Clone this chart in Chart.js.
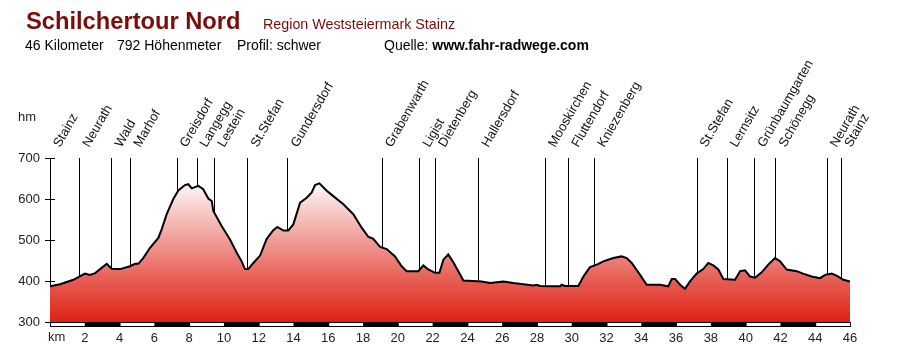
<!DOCTYPE html>
<html>
<head>
<meta charset="utf-8">
<script src="https://cdn.jsdelivr.net/npm/chart.js@4.4.1/dist/chart.umd.min.js"></script>
<style>
  html, body { margin: 0; padding: 0; background: #fff; overflow: hidden; }
  canvas { display: block; }
</style>
</head>
<body>
<canvas id="profil" width="900" height="348"></canvas>
<script>
// Streckenprofil: Kilometer und Höhe (hm)
const km = [0,0.58,1.34,2.01,2.30,2.59,2.88,3.26,3.55,4.03,
  4.60,4.89,5.08,5.36,5.75,6.23,6.42,6.71,7.09,7.38,
  7.76,7.95,8.15,8.53,8.81,9.10,9.30,9.39,9.87,10.35,
  10.74,11.02,11.21,11.40,11.69,12.08,12.46,12.84,13.07,13.42,
  13.70,13.99,14.38,14.76,15.05,15.24,15.49,15.91,16.29,16.87,
  17.44,17.92,18.30,18.59,18.98,19.36,19.84,20.22,20.51,21.18,
  21.47,21.75,22.14,22.39,22.62,22.90,23.20,23.77,24.82,25.30,
  26.07,26.64,27.79,27.99,28.18,29.33,29.42,29.61,30.38,30.67,
  31.05,31.44,31.82,32.39,32.87,33.16,33.45,33.93,34.31,35.08,
  35.55,35.75,35.94,36.23,36.51,36.80,37.18,37.56,37.85,38.14,
  38.43,38.72,39.39,39.68,39.96,40.25,40.54,40.92,41.30,41.69,
  41.98,42.36,42.94,43.30,43.80,44.28,44.57,44.95,45.23,45.62,
  46];
const hoehe = [387,392,403,418,415,419,429,442,430,429,
  436,442,442,456,481,505,526,563,600,621,
  634,636,626,632,624,601,595,571,534,501,
  469,448,429,429,444,462,503,524,532,523,
  523,538,591,603,616,634,638,620,607,587,
  563,530,508,503,483,478,460,436,424,424,
  438,428,420,420,452,465,445,401,399,395,
  399,395,389,391,388,387,391,388,388,411,
  434,440,448,456,460,456,444,415,391,391,
  387,405,405,391,381,399,418,429,444,438,
  428,405,403,424,426,411,408,421,440,456,
  448,428,424,418,411,407,415,418,413,403,
  399];

// Orte entlang der Strecke
const orte = ['Stainz','Neurath','Wald','Marhof','Greisdorf','Langegg','Lestein','St.Stefan',
  'Gundersdorf','Grabenwarth','Ligist','Dietenberg','Hallersdorf','Mooskirchen','Fluttendorf',
  'Kniezenberg','St.Stefan','Lernsitz','Grünbaumgarten','Schönegg','Neurath','Stainz'];
const orteKm = [0,1.68,3.53,4.62,7.28,8.43,9.45,11.35,13.65,19.07,21.24,22.14,24.63,
  28.46,29.8,31.3,37.18,38.91,40.5,41.71,44.66,45.49];

const hmTicks = [300,400,500,600,700];
const kmMax = 46;

const FONT = "'Liberation Sans', Arial, sans-serif";

const deko = {
  id: 'deko',
  beforeDatasetsDraw(chart) {
    const { ctx, chartArea, scales: { x } } = chart;
    ctx.save();
    ctx.strokeStyle = '#000';
    ctx.lineWidth = 1;
    orteKm.forEach(k => {
      const px = Math.round(x.getPixelForValue(k)) + 0.5;
      ctx.beginPath();
      ctx.moveTo(px, chartArea.top);
      ctx.lineTo(px, chartArea.bottom);
      ctx.stroke();
    });
    ctx.restore();
  },
  afterDatasetsDraw(chart) {
    const { ctx, chartArea, scales: { x, y } } = chart;
    ctx.save();
    // Kilometerleiste unten
    const yb = chartArea.bottom;
    const x0 = x.getPixelForValue(0), x1 = x.getPixelForValue(kmMax);
    ctx.fillStyle = '#000';
    ctx.fillRect(x0, yb, x1 - x0 + 1, 5);
    ctx.fillStyle = '#fff';
    for (let k = 0; k < kmMax; k += 4) {
      const a = x.getPixelForValue(k), b = x.getPixelForValue(Math.min(k + 2, kmMax));
      ctx.fillRect(a + 1, yb + 1, b - a - 1, 3);
    }
    // Striche innen an der Höhenachse
    ctx.strokeStyle = '#000';
    ctx.lineWidth = 1;
    hmTicks.slice(1).forEach(v => {
      const py = Math.round(y.getPixelForValue(v)) + 0.5;
      ctx.beginPath();
      ctx.moveTo(chartArea.left, py);
      ctx.lineTo(chartArea.left + 5, py);
      ctx.stroke();
    });
    // Ortsnamen schräg
    ctx.fillStyle = '#111';
    ctx.font = '13px ' + FONT;
    ctx.textAlign = 'left';
    ctx.textBaseline = 'alphabetic';
    orte.forEach((name, i) => {
      ctx.save();
      ctx.translate(x.getPixelForValue(orteKm[i]) + 10, chartArea.top - 10);
      ctx.rotate(-60 * Math.PI / 180);
      ctx.fillText(name, 0, 0);
      ctx.restore();
    });
    // Achsenbeschriftungen
    ctx.fillStyle = '#222';
    ctx.font = '13px ' + FONT;
    ctx.textBaseline = 'middle';
    ctx.fillText('hm', 18, 117);
    ctx.fillText('km', 48, 337);
    // Kopf
    ctx.textBaseline = 'alphabetic';
    ctx.fillStyle = '#7a0c0c';
    ctx.font = 'bold 23.7px ' + FONT;
    ctx.fillText('Schilchertour Nord', 26, 28.5);
    ctx.font = '14.3px ' + FONT;
    ctx.fillText('Region Weststeiermark Stainz', 263, 28.5);
    ctx.fillStyle = '#000';
    ctx.font = '14px ' + FONT;
    ctx.fillText('46 Kilometer', 25, 50);
    ctx.fillText('792 Höhenmeter', 117, 50);
    ctx.fillText('Profil: schwer', 237, 50);
    ctx.fillText('Quelle: ', 384, 50);
    const qw = ctx.measureText('Quelle: ').width;
    ctx.font = 'bold 14px ' + FONT;
    ctx.fillText('www.fahr-radwege.com', 384 + qw, 50);
    ctx.restore();
  }
};

new Chart(document.getElementById('profil'), {
  type: 'line',
  data: {
    datasets: [{
      data: km.map((k, i) => ({ x: k, y: hoehe[i] })),
      borderColor: '#000',
      borderWidth: 2,
      tension: 0,
      pointRadius: 0,
      fill: 'start',
      backgroundColor: (c) => {
        const { chart } = c;
        const area = chart.chartArea;
        if (!area) return '#e33';
        const ys = chart.scales.y;
        const g = chart.ctx.createLinearGradient(0, ys.getPixelForValue(300), 0, ys.getPixelForValue(650));
        g.addColorStop(0, 'rgb(221,34,22)');
        g.addColorStop(0.3, 'rgb(231,95,86)');
        g.addColorStop(1, 'rgb(255,255,255)');
        return g;
      }
    }]
  },
  options: {
    responsive: false,
    animation: false,
    devicePixelRatio: 1,
    layout: { padding: { top: 158, right: 50, left: 0, bottom: 0 } },
    plugins: { legend: { display: false }, tooltip: { enabled: false } },
    scales: {
      x: {
        type: 'linear',
        min: 0,
        max: kmMax,
        afterFit: s => { s.height = 26; },
        afterBuildTicks: s => { s.ticks = []; for (let k = 2; k <= kmMax; k += 2) s.ticks.push({ value: k }); },
        ticks: { color: '#222', font: { size: 13, family: FONT }, padding: 1, maxRotation: 0, autoSkip: false },
        grid: { display: false },
        border: { display: false }
      },
      y: {
        min: 300,
        max: 700,
        afterFit: s => { s.width = 50; },
        afterBuildTicks: s => { s.ticks = hmTicks.map(v => ({ value: v })); },
        ticks: { color: '#222', font: { size: 13, family: FONT }, padding: 5 },
        grid: { drawOnChartArea: false, tickLength: 5, color: '#000' },
        border: { color: '#000', width: 1 }
      }
    }
  },
  plugins: [deko]
});
</script>
</body>
</html>
